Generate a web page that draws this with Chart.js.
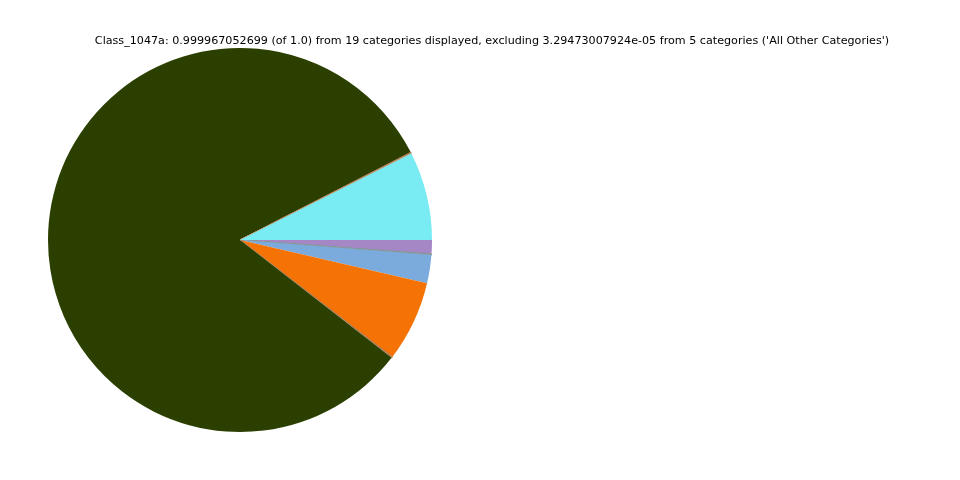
<!DOCTYPE html>
<html>
<head>
<meta charset="utf-8">
<script src="https://cdn.jsdelivr.net/npm/chart.js@4/dist/chart.umd.min.js"></script>
<style>
html,body{margin:0;padding:0;background:#fff;}
#wrap{width:960px;height:480px;position:relative;}
</style>
</head>
<body>
<div id="wrap"><canvas id="c" width="960" height="480"></canvas></div>
<script>
// Categories in matplotlib (counter-clockwise from 3 o'clock) order
const categories = [
  "Cat_01","Cat_02","Cat_03","Cat_04","Cat_05","Cat_06",
  "Cat_07","Cat_08","Cat_09","Cat_10","Cat_11","Cat_12",
  "Cat_13","Cat_14","Cat_15","Cat_16","Cat_17","Cat_18","Cat_19"
];
const values = [
  0.0745,
  0.0002, 0.0002, 0.0002, 0.0002, 0.0002,
  0.8195,
  0.0002, 0.0002, 0.0002, 0.0002, 0.0002,
  0.0680,
  0.0238,
  0.0002, 0.0002, 0.0002, 0.0002,
  0.0116
];
const colors = [
  "#79ECF3",
  "#C49A6C", "#8C6A4A", "#D2B48C", "#A0522D", "#B08060",
  "#2B3F00",
  "#C49A6C", "#8C6A4A", "#D2B48C", "#A0522D", "#B08060",
  "#F47304",
  "#7BAADC",
  "#8FA0A0", "#6F8080", "#A0B0B0", "#7F9090",
  "#A487C4"
];
const titleText = "Class_1047a: 0.999967052699 (of 1.0) from 19 categories displayed, excluding 3.29473007924e-05 from 5 categories ('All Other Categories')";

// Chart.js draws clockwise, matplotlib counter-clockwise: reverse order
const labelsCW = categories.slice().reverse();
const valuesCW = values.slice().reverse();
const colorsCW = colors.slice().reverse();
const bordersCW = valuesCW.map(v => v < 0.001 ? 0.8 : 0);

const placePie = {
  id: 'placePie',
  afterLayout(chart) {
    const ca = chart.chartArea;
    ca.left = 48; ca.right = 432; ca.top = 48; ca.bottom = 432;
    ca.width = 384; ca.height = 384;
  }
};

new Chart(document.getElementById('c'), {
  type: 'pie',
  data: {
    labels: labelsCW,
    datasets: [{
      data: valuesCW,
      backgroundColor: colorsCW,
      borderColor: colorsCW,
      borderWidth: bordersCW,
      radius: 192
    }]
  },
  options: {
    responsive: false,
    animation: false,
    rotation: 90,
    layout: { padding: { left: 24 } },
    plugins: {
      legend: { display: false },
      tooltip: { enabled: false },
      title: {
        display: true,
        text: titleText,
        color: '#000',
        font: { family: 'DejaVu Sans', size: 11.15, weight: 'normal' },
        padding: { top: 34, bottom: 4 }
      }
    }
  },
  plugins: [placePie]
});
</script>
</body>
</html>
